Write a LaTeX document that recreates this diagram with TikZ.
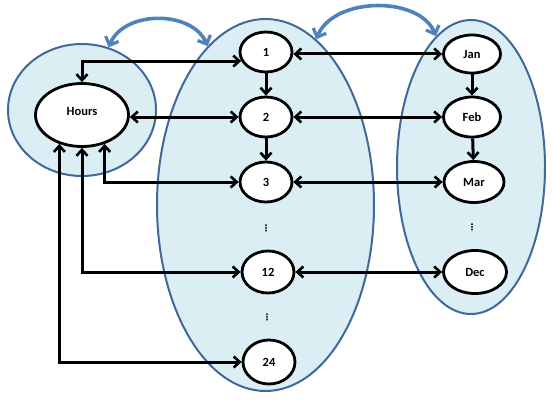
\documentclass[tikz,border=0pt]{standalone}
\usepackage{fontspec}
\setmainfont{Carlito}
\newfontfamily\dejavu{DejaVu Sans}
\usetikzlibrary{arrows.meta,shapes.geometric,calc}
\definecolor{grpfill}{HTML}{DBEEF4}
\definecolor{grpline}{HTML}{41689A}
\definecolor{arcblue}{HTML}{4F81BD}
\begin{document}
\begin{tikzpicture}[x=1pt,y=-1pt,
  group/.style={ellipse,draw=grpline,fill=grpfill,line width=2pt,inner sep=0pt},
  item/.style={ellipse,draw=black,fill=white,line width=2.8pt,inner sep=0pt,
    font=\fontsize{12.5}{13}\selectfont\bfseries},
  num/.style={item,minimum width=52pt,minimum height=40pt},
  mon/.style={item,minimum width=57pt,minimum height=38pt},
  dotsnode/.style={inner sep=0pt,font=\dejavu\bfseries\fontsize{9}{9}\selectfont},
  conn/.style={line width=3pt,draw=black,
    arrows={Straight Barb[length=6pt,width=11pt,line width=2.6pt]-Straight Barb[length=6pt,width=11pt,line width=2.6pt]}},
  down/.style={line width=3pt,draw=black,
    -{Straight Barb[length=6pt,width=11pt,line width=2.6pt]}},
  bluearc/.style={line width=3.6pt,draw=arcblue,
    arrows={Straight Barb[length=7pt,width=14pt,line width=3.2pt]-Straight Barb[length=7pt,width=14pt,line width=3.2pt]}}
]
\useasboundingbox (0,0) rectangle (554,404);

% group ellipses
\node[group,minimum width=148pt,minimum height=132pt] (hg) at (82,110) {};
\node[group,minimum width=217pt,minimum height=372pt] (mid) at (265.5,205) {};
\node[group,minimum width=148pt,minimum height=294pt] (rgt) at (471,167) {};

% hours node
\node[item,minimum width=93pt,minimum height=63pt] (hours) at (82,115) {\raisebox{7pt}{Hours}};

% numbers column
\node[num] (n1) at (266,52) {1};
\node[num] (n2) at (266,117) {2};
\node[num] (n3) at (266,182) {3};
\node[dotsnode] (d1) at (266,228) {⋮};
\node[num,minimum height=42pt] (n12) at (268,272) {12};
\node[dotsnode] (d2) at (267,317) {⋮};
\node[num,minimum height=44pt] (n24) at (269,362) {24};

% months column
\node[mon] (jan) at (472,54) {Jan};
\node[mon,minimum height=40pt] (feb) at (472,117) {Feb};
\node[mon,minimum width=60pt,minimum height=41pt] (mar) at (474,182) {Mar};
\node[dotsnode] (d3) at (472,227) {⋮};
\node[mon,minimum width=63pt,minimum height=43pt] (dec) at (475,272) {Dec};

% vertical arrows
\draw[down] (n1) -- (n2);
\draw[down] (n2) -- (n3);
\draw[down] (jan) -- (feb);
\draw[down] (feb) -- (mar);

% number <-> month
\draw[conn] (n1.east |- jan.west) -- (jan.west);
\draw[conn] (n2.east) -- (feb.west);
\draw[conn] (n3.east) -- (mar.west);
\draw[conn] (n12.east) -- (dec.west);

% hours connections
\draw[conn] (hours.north) |- (n1.200);
\draw[conn] (hours.east |- n2.west) -- (n2.west);
\draw[conn] (hours.308) |- (n3.west);
\draw[conn] (hours.south) |- (n12.west);
\draw[conn] (hours.232) |- (n24.west);

% blue arcs between groups
\draw[bluearc] (hg.67) .. controls (124,10) and (192,10) .. (mid.110);
\draw[bluearc] (mid.73) .. controls (334,-4) and (420,-4) .. (rgt.105);
\end{tikzpicture}
\end{document}
